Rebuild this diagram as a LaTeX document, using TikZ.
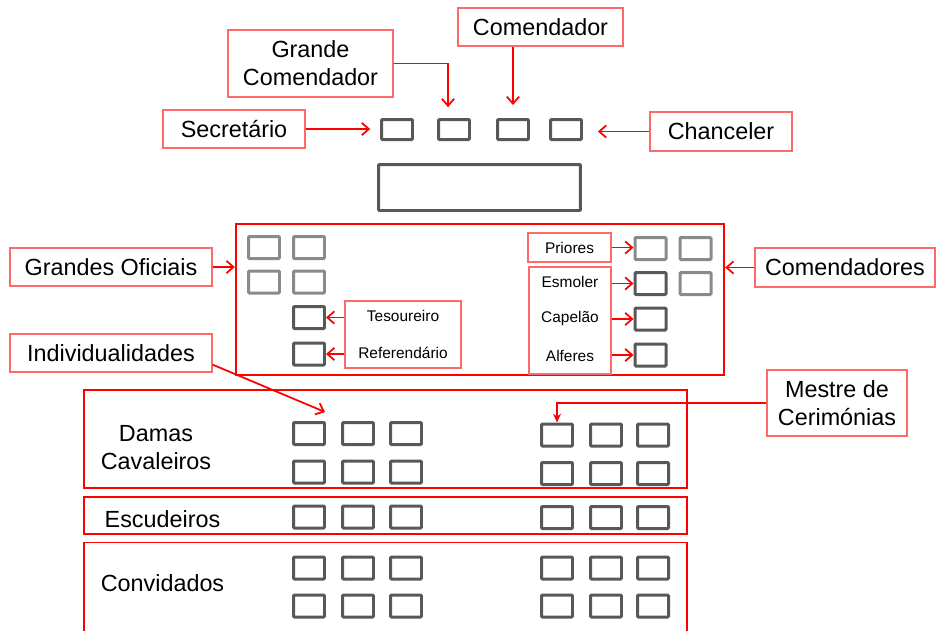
\documentclass[tikz,border=0pt]{standalone}
\usepackage{fontspec}
\setmainfont{Liberation Sans}
\usetikzlibrary{arrows.meta}
\definecolor{seatdk}{RGB}{88,88,88}
\definecolor{seatlt}{RGB}{138,138,138}
\definecolor{lblred}{RGB}{255,105,105}
\tikzstyle{lbl}=[draw=lblred,line width=.7pt,font=\fontsize{13.3}{15.9}\selectfont,align=center,inner sep=0pt]
\tikzstyle{rowtxt}=[font=\fontsize{13.3}{15.9}\selectfont,align=center,inner sep=0pt]
\tikzstyle{sm}=[font=\fontsize{8.8}{10.6}\selectfont,inner sep=0pt]
\tikzstyle{smbox}=[draw=lblred,line width=.7pt,inner sep=0pt]
\tikzstyle{seat}=[draw=seatdk,line width=1.7pt,rounded corners=.6pt,minimum width=.62cm,minimum height=.44cm,inner sep=0pt]
\tikzstyle{seatl}=[seat,draw=seatlt]
\tikzstyle{zone}=[draw=red,line width=1pt,inner sep=0pt]
\tikzstyle{arr}=[red,line width=1pt,-{Straight Barb[length=4pt,width=7pt]}]
\begin{document}
\begin{tikzpicture}[x=0.02cm,y=-0.02cm]
	\clip (0,0) rectangle (936,630);
	\node[lbl,minimum width=3.3cm,minimum height=.76cm] (com) at (540.5,27) {Comendador};
	\node[lbl,minimum width=3.3cm,minimum height=1.34cm] (gc) at (310.5,63.5) {Grande\\Comendador};
	\node[lbl,minimum width=2.84cm,minimum height=.76cm] (sec) at (234,129) {Secretário};
	\node[lbl,minimum width=2.84cm,minimum height=.78cm] (chan) at (721,131.5) {Chanceler};
	\foreach \x [count=\i] in {397,454,513,566}
		\node[seat,minimum height=.4cm] (t\i) at (\x,129.5) {};
	\node[seat,minimum width=4.04cm,minimum height=.92cm] (thr) at (479.5,187.5) {};
	\draw[arr,shorten >=7.4pt] (t3.north |- com.south) -- (t3.north);
	\draw[arr,shorten >=6.2pt] (gc.east) -| ([xshift=-.12cm]t2.north);
	\draw[arr,shorten >=5.6pt] (sec.east) -- (sec.east -| t1.west);
	\draw[arr,shorten >=8.5pt] (chan.west) -- (chan.west -| t4.east);

	\node[zone,line width=1.4pt,minimum width=9.76cm,minimum height=3.02cm] (ofic) at (480,299.5) {};
	\node[lbl,minimum width=4.04cm,minimum height=.76cm] (go) at (111,267) {Grandes Oficiais};
	\node[lbl,minimum width=3.6cm,minimum height=.78cm] (cmd) at (845,267.5) {Comendadores};
	\draw[arr] (go.east) -- (go.east -| ofic.west);
	\draw[arr] (cmd.west) -- (cmd.west -| ofic.east);
	\node[seatl] (go1) at (264,247.5) {};
	\node[seatl] (go2) at (309,247.5) {};
	\node[seatl] (go3) at (264,282) {};
	\node[seatl] (go4) at (309,282) {};
	\node[seat] (tes) at (309,317.5) {};
	\node[seat] (ref) at (309,354) {};
	\node[smbox,minimum width=2.32cm,minimum height=1.34cm] (tesbox) at (403,334.5) {};
	\node[sm] (tesl) at (403,316) {Tesoureiro};
	\node[sm] (refl) at (403,353) {Referendário};
	\draw[arr] (tesbox.west |- tes) -- (tes.east);
	\draw[arr] (tesbox.west |- ref) -- (ref.east);
	\node[smbox,sm,minimum width=1.66cm,minimum height=.58cm] (pri) at (569.5,247.5) {Priores};
	\node[seatl] (pr1) at (650.5,248.5) {};
	\node[seatl] (pr2) at (695.5,248.5) {};
	\node[seat] (esm) at (650.5,283.5) {};
	\node[seatl] (co2) at (695.5,283.5) {};
	\node[seat] (cap) at (650.5,319) {};
	\node[seat] (alf) at (650.5,355) {};
	\node[smbox,minimum width=1.64cm,minimum height=2.14cm] (esmbox) at (570,320.5) {};
	\node[sm] (esml) at (570,282) {Esmoler};
	\node[sm] (capl) at (570,318) {Capelão};
	\node[sm] (alfl) at (570,356) {Alferes};
	\draw[arr] (pri.east) -- (pri.east -| pr1.west);
	\draw[arr] (esmbox.east |- esm) -- (esm.west);
	\draw[arr] (esmbox.east |- cap) -- (cap.west);
	\draw[arr] (esmbox.east |- alf) -- (alf.west);

	\node[lbl,minimum width=4.04cm,minimum height=.76cm] (ind) at (111,353) {Individualidades};
	\coordinate (indend) at (325,412);
	\draw[arr] ([yshift=.16cm]ind.south east) -- (indend);

	\node[zone,minimum width=12.06cm,minimum height=1.96cm] (dam) at (385.5,439) {};
	\node[zone,minimum width=12.06cm,minimum height=.74cm] (esc) at (385.5,515.5) {};
	\node[zone,minimum width=12.06cm,minimum height=2.3cm] (conv) at (385.5,600) {};
	\node[rowtxt] (daml) at (156,448) {Damas\\Cavaleiros};
	\node[rowtxt] (escl) at (162.5,519) {Escudeiros};
	\node[rowtxt] (convl) at (162.5,583) {Convidados};
	\foreach \x [count=\i] in {309,358,406} {
		\node[seat] (dl1\i) at (\x,433.5) {};
		\node[seat] (dl2\i) at (\x,472) {};
		\node[seat] (el\i) at (\x,517) {};
		\node[seat] (cl1\i) at (\x,568) {};
		\node[seat] (cl2\i) at (\x,606) {};
	}
	\foreach \x [count=\i] in {557,606,653} {
		\node[seat] (dr1\i) at (\x,435) {};
		\node[seat] (dr2\i) at (\x,473.5) {};
		\node[seat] (er\i) at (\x,517.5) {};
		\node[seat] (cr1\i) at (\x,568) {};
		\node[seat] (cr2\i) at (\x,606) {};
	}
	\node[lbl,minimum width=2.8cm,minimum height=1.32cm] (mes) at (837,403) {Mestre de\\Cerimónias};
	\draw[red,line width=1pt,-{Stealth[length=5pt,width=4.5pt]}] (mes.west) -| (dr11.north);
\end{tikzpicture}
\end{document}
